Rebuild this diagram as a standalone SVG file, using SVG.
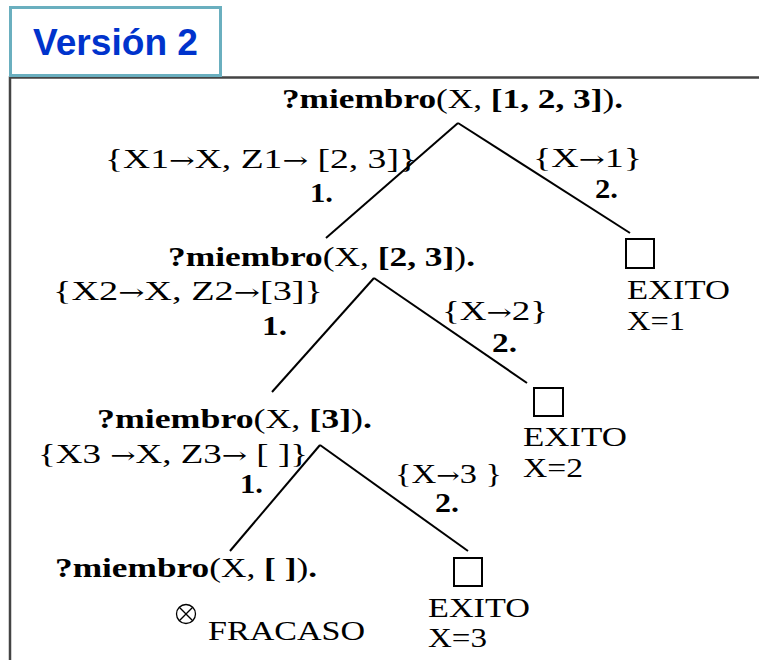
<svg xmlns="http://www.w3.org/2000/svg" width="759" height="660" viewBox="0 0 759 660">
<style>
.t{font-family:"Liberation Serif","Times New Roman",serif;font-size:27px;fill:#000}
.b{font-weight:bold}
.r{font-weight:normal}
.a{font-family:"DejaVu Serif",serif;font-size:22px}
.ln{stroke:#000;stroke-width:2;fill:none}
.box{fill:#fff;stroke:#000;stroke-width:2}
</style>
<rect width="759" height="660" fill="#fff"/>
<g id="frame">
<path d="M10,660 V77.5 H759" fill="none" stroke="#444" stroke-width="2.5"/>
</g>
<g id="title">
<rect x="10.5" y="7.5" width="210" height="68" fill="#fff" stroke="#6AAFBF" stroke-width="3"/>
<text x="33" y="55" font-family="Liberation Sans, Arial, sans-serif" font-weight="bold" font-size="36" fill="#0033CC" textLength="165" lengthAdjust="spacingAndGlyphs">Versión 2</text>
</g>
<g id="connectors">
<line class="ln" x1="458" y1="123" x2="326" y2="238"/>
<line class="ln" x1="458" y1="123" x2="630" y2="233"/>
<line class="ln" x1="374" y1="278" x2="272" y2="392"/>
<line class="ln" x1="374" y1="278" x2="527" y2="383"/>
<line class="ln" x1="320" y1="445" x2="230" y2="551"/>
<line class="ln" x1="320" y1="445" x2="468" y2="551"/>
</g>
<g id="n0">
<text class="t" x="282" y="108" textLength="341" lengthAdjust="spacingAndGlyphs"><tspan class="b">?miembro</tspan><tspan class="r">(X, </tspan><tspan class="b">[1, 2, 3]</tspan><tspan class="r">)</tspan><tspan class="b">.</tspan></text>
</g>
<g id="e1">
<text class="t" x="105" y="168" textLength="312" lengthAdjust="spacingAndGlyphs">{X1<tspan class="a">→</tspan>X, Z1<tspan class="a">→</tspan> [2, 3]}</text>
<text class="t b" x="310" y="202" textLength="23" lengthAdjust="spacingAndGlyphs">1.</text>
</g>
<g id="e2">
<text class="t" x="533" y="167" textLength="109" lengthAdjust="spacingAndGlyphs">{X<tspan class="a">→</tspan>1}</text>
<text class="t b" x="595" y="198" textLength="23" lengthAdjust="spacingAndGlyphs">2.</text>
</g>
<g id="s1">
<rect class="box" x="626" y="239" width="28" height="29"/>
<text class="t" x="627" y="299" textLength="103" lengthAdjust="spacingAndGlyphs">EXITO</text>
<text class="t" x="627" y="330" textLength="58" lengthAdjust="spacingAndGlyphs">X=1</text>
</g>
<g id="n1">
<text class="t" x="168" y="266" textLength="307" lengthAdjust="spacingAndGlyphs"><tspan class="b">?miembro</tspan><tspan class="r">(X, </tspan><tspan class="b">[2, 3]</tspan><tspan class="r">)</tspan><tspan class="b">.</tspan></text>
</g>
<g id="e3">
<text class="t" x="53" y="300" textLength="270" lengthAdjust="spacingAndGlyphs">{X2<tspan class="a">→</tspan>X, Z2<tspan class="a">→</tspan>[3]}</text>
<text class="t b" x="262" y="335" textLength="25" lengthAdjust="spacingAndGlyphs">1.</text>
</g>
<g id="e4">
<text class="t" x="442" y="320" textLength="106" lengthAdjust="spacingAndGlyphs">{X<tspan class="a">→</tspan>2}</text>
<text class="t b" x="492" y="352" textLength="25" lengthAdjust="spacingAndGlyphs">2.</text>
</g>
<g id="s2">
<rect class="box" x="534" y="388" width="29" height="28"/>
<text class="t" x="523" y="446" textLength="104" lengthAdjust="spacingAndGlyphs">EXITO</text>
<text class="t" x="523" y="477" textLength="60" lengthAdjust="spacingAndGlyphs">X=2</text>
</g>
<g id="n2">
<text class="t" x="97" y="428" textLength="275" lengthAdjust="spacingAndGlyphs"><tspan class="b">?miembro</tspan><tspan class="r">(X, </tspan><tspan class="b">[3]</tspan><tspan class="r">)</tspan><tspan class="b">.</tspan></text>
</g>
<g id="e5">
<text class="t" x="38" y="463" textLength="270" lengthAdjust="spacingAndGlyphs">{X3 <tspan class="a">→</tspan>X, Z3<tspan class="a">→</tspan> [ ]}</text>
<text class="t b" x="240" y="493" textLength="23" lengthAdjust="spacingAndGlyphs">1.</text>
</g>
<g id="e6">
<text class="t" x="395" y="483" textLength="107" lengthAdjust="spacingAndGlyphs">{X<tspan class="a">→</tspan>3 }</text>
<text class="t b" x="435" y="512" textLength="24" lengthAdjust="spacingAndGlyphs">2.</text>
</g>
<g id="s3">
<rect class="box" x="454" y="558" width="28" height="28"/>
<text class="t" x="428" y="617" textLength="102" lengthAdjust="spacingAndGlyphs">EXITO</text>
<text class="t" x="428" y="647" textLength="59" lengthAdjust="spacingAndGlyphs">X=3</text>
</g>
<g id="n3">
<text class="t" x="55" y="577" textLength="262" lengthAdjust="spacingAndGlyphs"><tspan class="b">?miembro</tspan><tspan class="r">(X, </tspan><tspan class="b">[ ]</tspan><tspan class="r">)</tspan><tspan class="b">.</tspan></text>
</g>
<g id="f3">
<circle cx="186" cy="614" r="9.5" fill="none" stroke="#000" stroke-width="1.3"/>
<line x1="179.3" y1="607.3" x2="192.7" y2="620.7" stroke="#000" stroke-width="1.3"/>
<line x1="192.7" y1="607.3" x2="179.3" y2="620.7" stroke="#000" stroke-width="1.3"/>
<text class="t" x="208" y="640" textLength="157" lengthAdjust="spacingAndGlyphs">FRACASO</text>
</g>
</svg>
